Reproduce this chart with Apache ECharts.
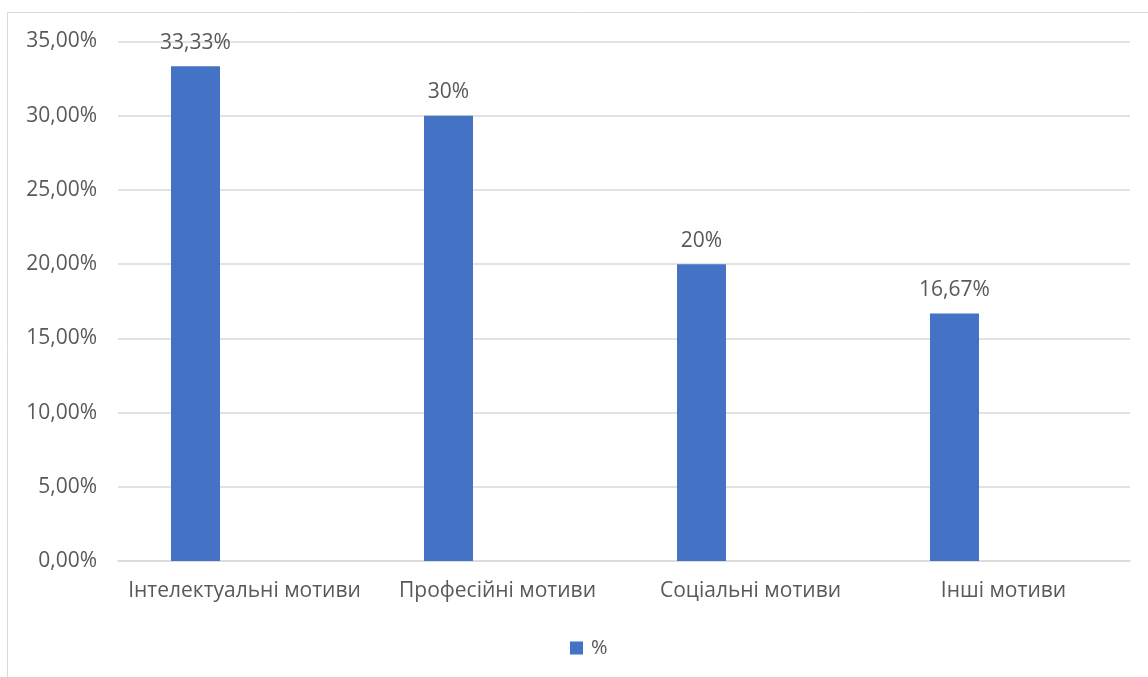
<!DOCTYPE html>
<html>
<head>
<meta charset="utf-8">
<script src="https://cdn.jsdelivr.net/npm/echarts@6/dist/echarts.min.js"></script>
<style>
  html, body { margin: 0; padding: 0; background: #fff; }
  #chart { width: 1148px; height: 677px; }
</style>
</head>
<body>
<div id="chart"></div>
<script>
// Motive categories and their shares (percent)
const categories = ['Інтелектуальні мотиви', 'Професійні мотиви', 'Соціальні мотиви', 'Інші мотиви'];
const shares = [33.33, 30, 20, 16.67];
const seriesName = '%';
const yTicks = [0, 5, 10, 15, 20, 25, 30, 35];

const FONT = '"Open Sans"';
const TEXT = '#595959';
const GRID = '#d9d9d9';

function fmtTick(v) {
  return v.toFixed(2).replace('.', ',') + '%';
}
function fmtLabel(v) {
  return String(Math.round(v * 100) / 100).replace('.', ',') + '%';
}

const chart = echarts.init(document.getElementById('chart'), null, { renderer: 'canvas' });
chart.setOption({
  animation: false,
  backgroundColor: '#fff',
  graphic: [{
    type: 'rect',
    shape: { x: 7.5, y: 12.5, width: 1200, height: 800 },
    style: { fill: 'none', stroke: GRID, lineWidth: 1 },
    silent: true
  }],
  grid: { left: 118, right: 18, top: 41.5, bottom: 116, containLabel: false },
  legend: {
    data: [seriesName],
    left: 570, top: 638,
    padding: 0,
    itemWidth: 13, itemHeight: 13, itemGap: 4,
    icon: 'rect',
    textStyle: { color: TEXT, fontFamily: FONT, fontSize: 20, padding: [0, 0, 0, 3] }
  },
  xAxis: {
    type: 'category',
    data: categories,
    axisLine: { lineStyle: { color: GRID, width: 1.5 } },
    axisTick: { show: false },
    axisLabel: { color: TEXT, fontFamily: FONT, fontSize: 21, margin: 20, interval: 0 }
  },
  yAxis: {
    type: 'value',
    min: yTicks[0], max: yTicks[yTicks.length - 1], interval: 5,
    axisLine: { show: false },
    axisTick: { show: false },
    splitLine: { lineStyle: { color: GRID, width: 1.5 } },
    axisLabel: { color: TEXT, fontFamily: FONT, fontSize: 21, margin: 21, formatter: fmtTick }
  },
  series: [
    {
      name: seriesName,
      type: 'bar',
      data: shares,
      barWidth: 49,
      barGap: '100%',
      itemStyle: { color: '#4472C4' },
      label: {
        show: true, position: 'top', distance: 13,
        color: TEXT, fontFamily: FONT, fontSize: 21,
        formatter: p => fmtLabel(p.value)
      }
    },
    {
      name: 'spacer',
      type: 'bar',
      data: categories.map(() => null),
      barWidth: 49,
      itemStyle: { color: 'transparent' }
    }
  ]
});
</script>
</body>
</html>
